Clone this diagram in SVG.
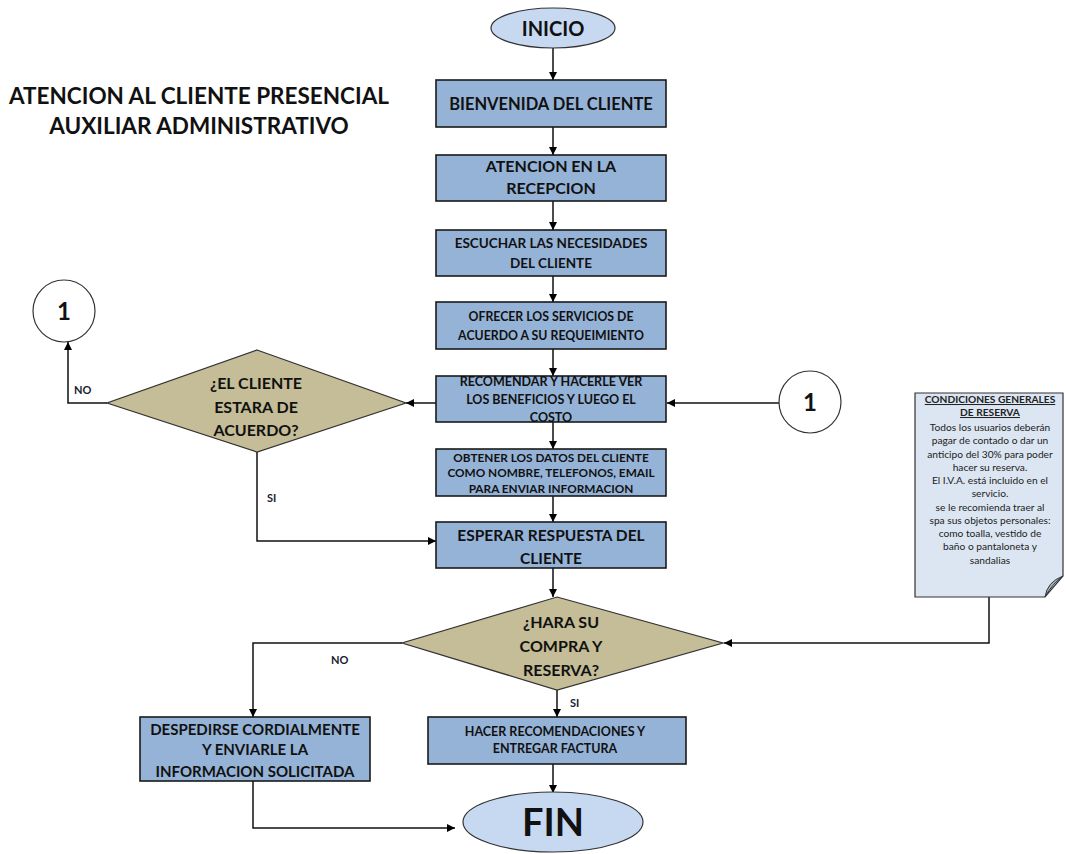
<svg xmlns="http://www.w3.org/2000/svg" width="1066" height="854" viewBox="0 0 1066 854">
<defs>
<marker id="ah" viewBox="0 0 10 10" refX="10" refY="5" markerWidth="8" markerHeight="8" markerUnits="userSpaceOnUse" orient="auto">
<path d="M0,0 L10,5 L0,10 Z" fill="#000"/>
</marker>
<style>
.box{fill:#95b3d7;stroke:#1a1a1a;stroke-width:1.6}
.dia{fill:#c4bd97;stroke:#333;stroke-width:1.2}
.ell{fill:#c6d9f1;stroke:#333;stroke-width:1.2}
.circ{fill:#fff;stroke:#333;stroke-width:1.2}
.t{font-family:Lato,"Liberation Sans",sans-serif;font-weight:bold;fill:#111;text-anchor:middle}
.lbl{font-family:Lato,"Liberation Sans",sans-serif;font-weight:bold;fill:#1a2030;font-size:11px}
.c{fill:none;stroke:#111;stroke-width:1.5;marker-end:url(#ah)}
.nt{font-family:Lato,"Liberation Sans",sans-serif;fill:#222;font-size:10.2px;text-anchor:middle}
</style>
</defs>
<rect width="1066" height="854" fill="#fff"/>

<g id="title">
<text class="t" x="199" y="104" font-size="22.5">ATENCION AL CLIENTE PRESENCIAL</text>
<text class="t" x="199" y="134" font-size="22.5">AUXILIAR ADMINISTRATIVO</text>
</g>

<g id="connectors">
<path class="c" d="M553,48 V80"/>
<path class="c" d="M553,127 V155"/>
<path class="c" d="M553,201 V230"/>
<path class="c" d="M553,276 V302"/>
<path class="c" d="M553,349 V376"/>
<path class="c" d="M553,422 V449"/>
<path class="c" d="M553,496 V522"/>
<path class="c" d="M553,568 V597"/>
<path class="c" d="M436,403 H406"/>
<path class="c" d="M107,403 H68 V342"/>
<path class="c" d="M257,452 V541 H436"/>
<path class="c" d="M779,403 H667"/>
<path class="c" d="M989,597 V643 H724"/>
<path class="c" d="M402,643 H253 V717"/>
<path class="c" d="M557,690 V717"/>
<path class="c" d="M553,764 V793"/>
<path class="c" d="M253,781 V828 H455"/>
<text class="lbl" x="74" y="394">NO</text>
<text class="lbl" x="267" y="502">SI</text>
<text class="lbl" x="331" y="664">NO</text>
<text class="lbl" x="570" y="707">SI</text>
</g>

<g id="inicio">
<ellipse class="ell" cx="553" cy="28" rx="62" ry="20"/>
<text class="t" x="553" y="36" font-size="20">INICIO</text>
</g>

<g id="bienvenida">
<rect class="box" x="436" y="80" width="230" height="47"/>
<text class="t" x="551" y="110" font-size="16.5">BIENVENIDA DEL  CLIENTE</text>
</g>

<g id="atencion">
<rect class="box" x="436" y="155" width="230" height="46"/>
<text class="t" x="551" y="172" font-size="16">ATENCION EN  LA</text>
<text class="t" x="551" y="194" font-size="16">RECEPCION</text>
</g>

<g id="escuchar">
<rect class="box" x="436" y="230" width="230" height="46"/>
<text class="t" x="551" y="248" font-size="13.5">ESCUCHAR LAS NECESIDADES</text>
<text class="t" x="551" y="268" font-size="13.5">DEL CLIENTE</text>
</g>

<g id="ofrecer">
<rect class="box" x="436" y="302" width="230" height="47"/>
<text class="t" x="551" y="321" font-size="12.3">OFRECER LOS SERVICIOS DE</text>
<text class="t" x="551" y="340" font-size="12.3">ACUERDO A SU REQUEIMIENTO</text>
</g>

<g id="recomendar">
<rect class="box" x="436" y="376" width="230" height="46"/>
<text class="t" x="551" y="386" font-size="12.5">RECOMENDAR Y HACERLE VER</text>
<text class="t" x="551" y="404" font-size="12.5">LOS BENEFICIOS Y LUEGO EL</text>
<text class="t" x="551" y="422" font-size="12.5">COSTO</text>
</g>

<g id="obtener">
<rect class="box" x="436" y="449" width="230" height="47"/>
<text class="t" x="551" y="462" font-size="11.8">OBTENER LOS DATOS DEL CLIENTE</text>
<text class="t" x="551" y="477" font-size="11.8">COMO NOMBRE, TELEFONOS, EMAIL</text>
<text class="t" x="551" y="493" font-size="11.8">PARA ENVIAR  INFORMACION</text>
</g>

<g id="esperar">
<rect class="box" x="436" y="522" width="230" height="46"/>
<text class="t" x="551" y="541" font-size="15.5">ESPERAR RESPUESTA  DEL</text>
<text class="t" x="551" y="564" font-size="15.5">CLIENTE</text>
</g>

<g id="decision1">
<polygon class="dia" points="257,350 406,403 257,452 107,403"/>
<text class="t" x="256" y="389" font-size="16">¿EL CLIENTE</text>
<text class="t" x="256" y="413" font-size="16">ESTARA DE</text>
<text class="t" x="256" y="436" font-size="16">ACUERDO?</text>
</g>

<g id="conector-izq">
<circle class="circ" cx="64" cy="311" r="31"/>
<text class="t" x="64" y="320" font-size="24">1</text>
</g>

<g id="conector-der">
<circle class="circ" cx="810" cy="402" r="31"/>
<text class="t" x="810" y="411" font-size="24">1</text>
</g>

<g id="nota">
<path d="M915,393 H1063 V576 L1045,597 H915 Z" fill="#dce6f2" stroke="#333" stroke-width="1.2"/>
<path d="M1045,597 Q1047,582 1063,576 Q1052,584 1045,597 Z" fill="#a5b3c4" stroke="#333" stroke-width="1"/>
<text class="nt" font-weight="bold" x="990" y="403" text-decoration="underline">CONDICIONES GENERALES</text>
<text class="nt" font-weight="bold" x="990" y="416" text-decoration="underline">DE RESERVA</text>
<text class="nt" x="990" y="431">Todos los usuarios deberán</text>
<text class="nt" x="990" y="444">pagar de contado o dar un</text>
<text class="nt" x="990" y="458">anticipo del 30% para poder</text>
<text class="nt" x="990" y="471">hacer su reserva.</text>
<text class="nt" x="990" y="484">El I.V.A. está incluido en el</text>
<text class="nt" x="990" y="497">servicio.</text>
<text class="nt" x="990" y="511">se le recomienda traer al</text>
<text class="nt" x="990" y="524">spa sus objetos personales:</text>
<text class="nt" x="990" y="537">como toalla, vestido de</text>
<text class="nt" x="990" y="550">baño o pantaloneta y</text>
<text class="nt" x="990" y="564">sandalias</text>
</g>

<g id="decision2">
<polygon class="dia" points="557,597 723,643 557,690 402,643"/>
<text class="t" x="561" y="628" font-size="16">¿HARA SU</text>
<text class="t" x="561" y="652" font-size="16">COMPRA Y</text>
<text class="t" x="561" y="676" font-size="16">RESERVA?</text>
</g>

<g id="despedirse">
<rect class="box" x="140" y="717" width="230" height="64"/>
<text class="t" x="255" y="735" font-size="15">DESPEDIRSE CORDIALMENTE</text>
<text class="t" x="255" y="755" font-size="15">Y ENVIARLE LA</text>
<text class="t" x="255" y="777" font-size="15">INFORMACION SOLICITADA</text>
</g>

<g id="hacer">
<rect class="box" x="428" y="717" width="258" height="47"/>
<text class="t" x="555" y="736" font-size="12.5">HACER RECOMENDACIONES Y</text>
<text class="t" x="555" y="753" font-size="12.5">ENTREGAR FACTURA</text>
</g>

<g id="fin">
<ellipse class="ell" cx="553" cy="822" rx="90" ry="30"/>
<text class="t" x="553" y="836" font-size="38">FIN</text>
</g>
</svg>
